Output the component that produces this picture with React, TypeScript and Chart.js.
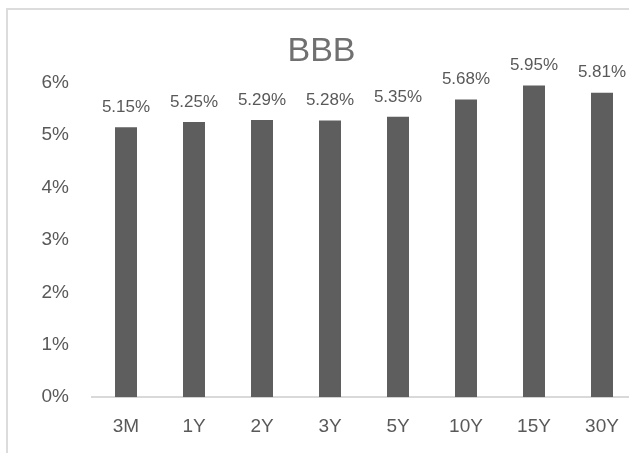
import React, { useEffect, useRef } from "react";
import { Chart, registerables } from "chart.js";

Chart.register(...registerables);

const categories = ["3M", "1Y", "2Y", "3Y", "5Y", "10Y", "15Y", "30Y"];
const yields = [5.15, 5.25, 5.29, 5.28, 5.35, 5.68, 5.95, 5.81];
const yTicks = [0, 1, 2, 3, 4, 5, 6];
const titleText = "BBB";

const dataLabelPlugin = {
  id: "dataLabels",
  afterDatasetsDraw(chart: any) {
    const ctx = chart.ctx;
    const meta = chart.getDatasetMeta(0);
    ctx.save();
    ctx.font = "17px 'Liberation Sans', Arial, sans-serif";
    ctx.fillStyle = "#595959";
    ctx.textAlign = "center";
    ctx.textBaseline = "middle";
    meta.data.forEach((bar: any, i: number) => {
      const v = chart.data.datasets[0].data[i];
      ctx.fillText(v.toFixed(2) + "%", bar.x, bar.y - 20);
    });
    ctx.restore();
  },
};

export default function App() {
  const ref = useRef<HTMLCanvasElement | null>(null);
  useEffect(() => {
    if (!ref.current) return;
    const chart = new Chart(ref.current, {
      type: "bar",
      data: {
        labels: categories,
        datasets: [
          {
            data: yields,
            backgroundColor: "#5e5e5e",
            barPercentage: 0.3235,
            categoryPercentage: 1,
          },
        ],
      },
      options: {
        animation: false,
        responsive: false,
        layout: { padding: { left: 0, right: 11, top: 0, bottom: 13 } },
        plugins: {
          legend: { display: false },
          tooltip: { enabled: false },
          title: {
            display: true,
            text: titleText,
            color: "#707070",
            font: { family: "'Liberation Sans', Arial, sans-serif", size: 34, weight: "normal" as any, lineHeight: 1.2 },
            padding: { top: 22, bottom: 11 },
          },
        },
        scales: {
          x: {
            grid: { display: false, drawTicks: false },
            border: { display: true, color: "#d9d9d9", width: 2 },
            ticks: {
              color: "#595959",
              font: { family: "'Liberation Sans', Arial, sans-serif", size: 19 },
              padding: 18,
              maxRotation: 0,
            },
          },
          y: {
            min: 0,
            max: 6,
            afterFit: (scale: any) => {
              scale.width = 85;
            },
            afterBuildTicks: (scale: any) => {
              scale.ticks = yTicks.map((v) => ({ value: v }));
            },
            grid: { display: false, drawTicks: false },
            border: { display: false },
            ticks: {
              color: "#595959",
              font: { family: "'Liberation Sans', Arial, sans-serif", size: 19 },
              padding: 23,
              callback: (v: any) => v + "%",
            },
          },
        },
      },
      plugins: [dataLabelPlugin],
    });
    return () => chart.destroy();
  }, []);

  return (
    <div
      style={{
        position: "fixed",
        left: 0,
        top: 0,
        width: 629,
        height: 453,
        overflow: "hidden",
        background: "#ffffff",
      }}
    >
      <div
        style={{
          position: "absolute",
          left: 6,
          top: 8,
          width: 640,
          height: 460,
          borderLeft: "2px solid #dcdcdc",
          borderTop: "2px solid #dcdcdc",
        }}
      />
      <canvas
        ref={ref}
        width={640}
        height={460}
        style={{ position: "absolute", left: 7, top: 9, width: 640, height: 460 }}
      />
    </div>
  );
}
